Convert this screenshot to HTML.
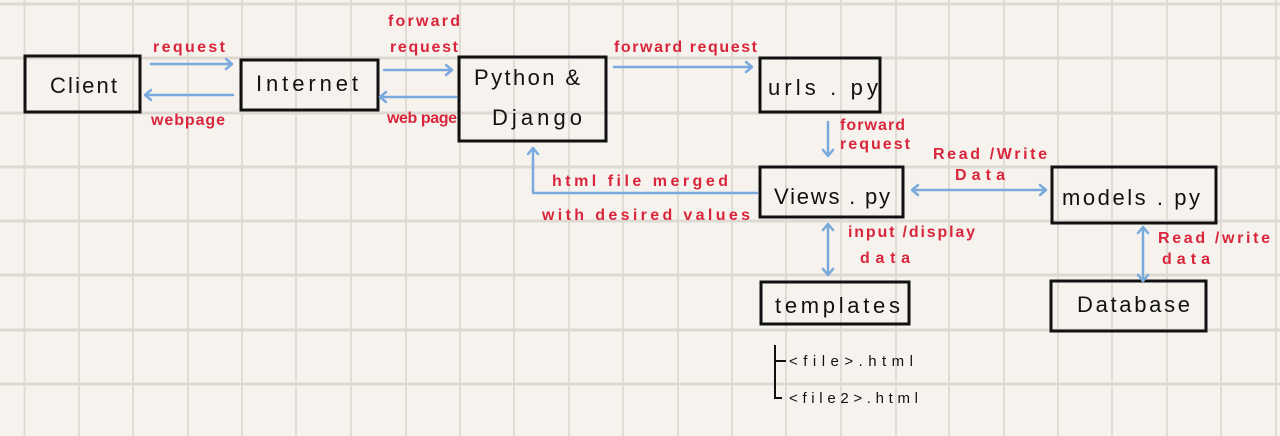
<!DOCTYPE html>
<html><head><meta charset="utf-8"><style>
html,body{margin:0;padding:0;background:#f6f3ee;}
svg{display:block}
.b{font-family:"Liberation Sans",sans-serif;font-size:22px;fill:#111;}
.r{font-family:"Liberation Sans",sans-serif;font-size:16px;font-weight:bold;fill:#d9263c;}
.k{font-family:"Liberation Sans",sans-serif;font-size:15px;fill:#111;}
</style></head><body>
<svg width="1280" height="436" viewBox="0 0 1280 436" xmlns="http://www.w3.org/2000/svg">
<rect width="1280" height="436" fill="#f6f3ee"/>
<g stroke="#e0dcd5" stroke-width="2">
<line x1="24.5" y1="0" x2="24.5" y2="436"/><line x1="79" y1="0" x2="79" y2="436"/><line x1="133" y1="0" x2="133" y2="436"/><line x1="188" y1="0" x2="188" y2="436"/><line x1="242" y1="0" x2="242" y2="436"/><line x1="296" y1="0" x2="296" y2="436"/><line x1="351" y1="0" x2="351" y2="436"/><line x1="406" y1="0" x2="406" y2="436"/><line x1="460" y1="0" x2="460" y2="436"/><line x1="514" y1="0" x2="514" y2="436"/><line x1="569" y1="0" x2="569" y2="436"/><line x1="623" y1="0" x2="623" y2="436"/><line x1="678" y1="0" x2="678" y2="436"/><line x1="732" y1="0" x2="732" y2="436"/><line x1="786" y1="0" x2="786" y2="436"/><line x1="841" y1="0" x2="841" y2="436"/><line x1="896" y1="0" x2="896" y2="436"/><line x1="949" y1="0" x2="949" y2="436"/><line x1="1004" y1="0" x2="1004" y2="436"/><line x1="1058" y1="0" x2="1058" y2="436"/><line x1="1112" y1="0" x2="1112" y2="436"/><line x1="1167" y1="0" x2="1167" y2="436"/><line x1="1221" y1="0" x2="1221" y2="436"/><line x1="1276" y1="0" x2="1276" y2="436"/>
</g>
<g stroke="#ddd9d2" stroke-width="3">
<line x1="0" y1="4" x2="1280" y2="4"/><line x1="0" y1="58" x2="1280" y2="58"/><line x1="0" y1="113" x2="1280" y2="113"/><line x1="0" y1="167" x2="1280" y2="167"/><line x1="0" y1="221" x2="1280" y2="221"/><line x1="0" y1="275" x2="1280" y2="275"/><line x1="0" y1="330" x2="1280" y2="330"/><line x1="0" y1="384" x2="1280" y2="384"/>
</g>
<g fill="none" stroke="#111" stroke-width="3">
<rect x="25" y="56" width="115" height="56"/>
<rect x="241" y="60" width="137" height="50"/>
<rect x="459" y="57" width="147" height="84"/>
<rect x="760" y="58" width="120" height="54"/>
<rect x="760" y="167" width="143" height="50"/>
<rect x="1052" y="167" width="164" height="56"/>
<rect x="761" y="282" width="148" height="42"/>
<rect x="1051" y="281" width="155" height="50"/>
</g>
<g stroke="#7aa9dc" stroke-width="2.5" fill="none" stroke-linecap="round" stroke-linejoin="round">
<path d="M151 64H232M226 59L232 64L226 69"/>
<path d="M145 95H233M151 90L145 95L151 100"/>
<path d="M384 70H452M446 65L452 70L446 75"/>
<path d="M380 97H456M386 92L380 97L386 102"/>
<path d="M614 67H752M746 62L752 67L746 72"/>
<path d="M828 122V156M823 150L828 156L833 150"/>
<path d="M757 193H533V148M528 154L533 148L538 154"/>
<path d="M912 190H1046M918 185L912 190L918 195M1040 185L1046 190L1040 195"/>
<path d="M828 224V275M823 230L828 224L833 230M823 269L828 275L833 269"/>
<path d="M1143 227V281M1138 233L1143 227L1148 233M1138 275L1143 281L1148 275"/>
</g>
<g class="b" lengthAdjust="spacing">
<text x="50" y="93" textLength="67">Client</text>
<text x="256" y="91" textLength="102">Internet</text>
<text x="474" y="85" textLength="106">Python &amp;</text>
<text x="492" y="125" textLength="90">Django</text>
<text x="768" y="95" textLength="110">urls . py</text>
<text x="774" y="204" textLength="116">Views . py</text>
<text x="1062" y="205" textLength="138">models . py</text>
<text x="775" y="313" textLength="125">templates</text>
<text x="1077" y="312" textLength="113">Database</text>
</g>
<g class="r">
<text x="153" y="52" textLength="72">request</text>
<text x="151" y="125" textLength="74">webpage</text>
<text x="388" y="26" textLength="72">forward</text>
<text x="390" y="52" textLength="68">request</text>
<text x="387" y="123" textLength="70">web page</text>
<text x="614" y="52" textLength="143">forward request</text>
<text x="840" y="130" textLength="65">forward</text>
<text x="840" y="149" textLength="70">request</text>
<text x="933" y="159" textLength="114">Read /Write</text>
<text x="955" y="180" textLength="50">Data</text>
<text x="552" y="186" textLength="176">html file merged</text>
<text x="542" y="220" textLength="208">with desired values</text>
<text x="848" y="237" textLength="127">input /display</text>
<text x="860" y="263" textLength="50">data</text>
<text x="1158" y="243" textLength="112">Read /write</text>
<text x="1162" y="264" textLength="48">data</text>
</g>
<path d="M775 345V398H782M775 361H786" stroke="#111" stroke-width="2" fill="none"/>
<text class="k" x="789" y="366" textLength="124">&lt;file&gt;.html</text>
<text class="k" x="789" y="403" textLength="129">&lt;file2&gt;.html</text>
</svg>
</body></html>
